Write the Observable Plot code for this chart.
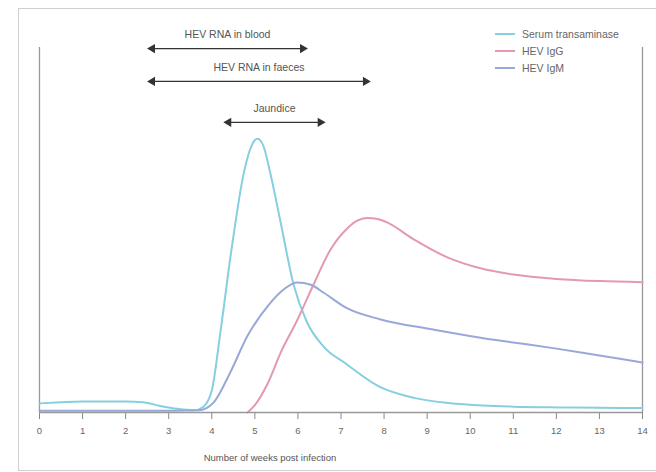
<!DOCTYPE html>
<html>
<head>
<meta charset="utf-8">
<script src="https://cdn.jsdelivr.net/npm/d3@7"></script>
<script src="https://cdn.jsdelivr.net/npm/@observablehq/plot@0.6"></script>
<style>
  html, body { margin: 0; padding: 0; background: #fff; }
  body { width: 656px; height: 472px; position: relative; overflow: hidden; font-family: "Liberation Sans", Arial, sans-serif; }
  #frame { position: absolute; left: 18px; top: 8px; width: 700px; height: 463px; border: 1.5px solid #d0d0d0; box-sizing: border-box; }
  #chart { position: absolute; left: 0; top: 0; }
  #legend { position: absolute; left: 495px; top: 25px; font-size: 10.5px; color: #666; }
  .row { display: flex; align-items: center; height: 17px; }
  .sw { width: 20px; height: 0; border-top: 2px solid; margin-right: 7px; }
  #xtitle { position: absolute; left: 0; width: 540px; top: 452px; line-height: 12px; text-align: center; font-size: 9.5px; color: #555; }
</style>
</head>
<body>
<div id="frame"></div>
<div id="chart"></div>
<div id="legend"></div>
<div id="xtitle">Number of weeks post infection</div>
<script>
// Series
const seriesNames = ["Serum transaminase", "HEV IgG", "HEV IgM"];
const seriesColors = ["#86cfe0", "#e39aae", "#98a8d8"];

const transWeeks = [0, 0.5, 1, 1.5, 2, 2.4, 2.8, 3.2, 3.6, 3.8, 4.0, 4.2, 4.45, 4.75, 4.92, 5.06, 5.2, 5.35, 5.6, 5.9, 6.2, 6.6, 7.1, 7.9, 8.7, 9.5, 10.3, 11, 12, 13, 14];
const transValues = [2.5, 2.8, 3.0, 3.0, 3.0, 2.8, 1.8, 1.0, 0.6, 1.5, 6, 22, 44, 66, 73, 75, 73, 66, 52, 35, 25, 18, 13.5, 7, 4, 2.6, 1.9, 1.6, 1.4, 1.3, 1.2];

const iggWeeks = [4.83, 5.0, 5.3, 5.6, 5.98, 6.36, 6.75, 7.15, 7.4, 7.62, 7.85, 8.08, 8.68, 9.47, 10.24, 11, 12, 13, 14];
const iggValues = [0, 2, 8, 16.4, 25.2, 35, 44.5, 50.5, 52.7, 53.3, 53, 52, 47.5, 42.5, 39.5, 37.8, 36.6, 36, 35.7];

const igmWeeks = [0, 1, 2, 3, 3.7, 4.04, 4.43, 4.83, 5.29, 5.6, 5.98, 6.3, 6.6, 7.15, 7.92, 9.1, 10.24, 11, 12, 13, 14];
const igmValues = [0.5, 0.5, 0.5, 0.5, 0.6, 2.7, 11, 21, 29, 33, 35.6, 35, 32.8, 28.5, 25.5, 22.8, 20.5, 19.2, 17.5, 15.6, 13.7];

// Annotations (double arrows)
const spanLabels = ["HEV RNA in blood", "HEV RNA in faeces", "Jaundice"];
const spanStarts = [2.62, 2.62, 4.39];
const spanEnds = [6.11, 7.57, 6.52];
const spanLevels = [99.7, 90.7, 79.5];

// Axis ticks
const xTicks = [0, 1, 2, 3, 4, 5, 6, 7, 8, 9, 10, 11, 12, 13, 14];

const toRows = (name, xs, ys) => xs.map((x, i) => ({series: name, x, y: ys[i]}));
const lines = [
  toRows(seriesNames[0], transWeeks, transValues),
  toRows(seriesNames[1], iggWeeks, iggValues),
  toRows(seriesNames[2], igmWeeks, igmValues)
];
const spans = spanLabels.map((label, i) => ({label, x1: spanStarts[i], x2: spanEnds[i], y: spanLevels[i], xm: (spanStarts[i] + spanEnds[i]) / 2}));

const chart = Plot.plot({
  width: 656,
  height: 472,
  marginLeft: 39,
  marginRight: 14,
  marginTop: 47,
  marginBottom: 60,
  style: {fontFamily: "Liberation Sans, Arial, sans-serif", fontSize: "9.5px", color: "#666", background: "transparent"},
  x: {domain: [0, 14]},
  y: {domain: [0, 100], axis: null},
  marks: [
    Plot.axisX({ticks: xTicks, tickSize: 7, tickPadding: 8, label: null, stroke: "#888", color: "#666", tickFormat: d3.format("d")}),
    Plot.ruleX([0, 14], {y1: 0, y2: 100, stroke: "#999", strokeWidth: 1.3}),
    ...lines.map((rows, i) => Plot.line(rows, {x: "x", y: "y", curve: "monotone-x", stroke: seriesColors[i], strokeWidth: 2})),
    Plot.ruleY([0], {stroke: "#999", strokeWidth: 1.3}),
    Plot.link(spans, {x1: "x1", x2: "x2", y1: "y", y2: "y", stroke: "#333", strokeWidth: 1.2}),
    Plot.dot(spans, {x: "x1", y: "y", symbol: "triangle", rotate: -90, r: 3.4, fill: "#333", stroke: "none"}),
    Plot.dot(spans, {x: "x2", y: "y", symbol: "triangle", rotate: 90, r: 3.4, fill: "#333", stroke: "none"}),
    Plot.text(spans, {x: "xm", y: "y", text: "label", dy: -14, fill: "#555", fontSize: 10.5})
  ]
});
document.getElementById("chart").appendChild(chart);

const legend = document.getElementById("legend");
seriesNames.forEach((name, i) => {
  const row = document.createElement("div");
  row.className = "row";
  const sw = document.createElement("span");
  sw.className = "sw";
  sw.style.borderTopColor = seriesColors[i];
  const t = document.createElement("span");
  t.textContent = name;
  row.appendChild(sw);
  row.appendChild(t);
  legend.appendChild(row);
});
</script>
</body>
</html>
